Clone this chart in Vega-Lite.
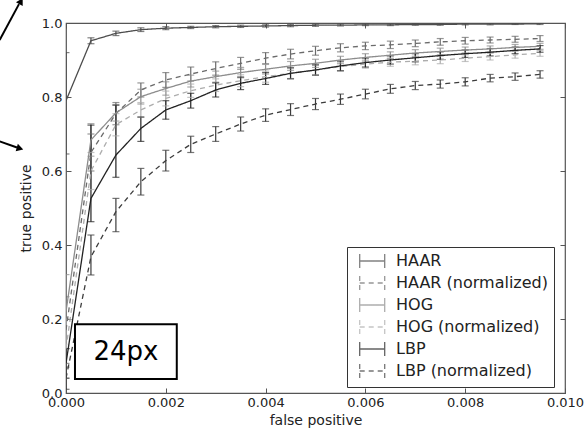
{
  "$schema": "https://vega.github.io/schema/vega-lite/v6.json",
  "width": 499,
  "height": 370,
  "autosize": {"type": "none"},
  "padding": {"left": 66, "top": 23, "right": 23, "bottom": 35},
  "background": "white",
  "datasets": {
    "curves": [
      {"s": "HAAR", "x": 0, "y": 0.79, "lo": 0.646, "hi": 0.92},
      {"s": "HAAR", "x": 0.0005, "y": 0.952, "lo": 0.944, "hi": 0.96},
      {"s": "HAAR", "x": 0.001, "y": 0.972, "lo": 0.966, "hi": 0.978},
      {"s": "HAAR", "x": 0.0015, "y": 0.982, "lo": 0.977, "hi": 0.987},
      {"s": "HAAR", "x": 0.002, "y": 0.986, "lo": 0.982, "hi": 0.99},
      {"s": "HAAR", "x": 0.0025, "y": 0.988, "lo": 0.985, "hi": 0.991},
      {"s": "HAAR", "x": 0.003, "y": 0.99, "lo": 0.987, "hi": 0.993},
      {"s": "HAAR", "x": 0.0035, "y": 0.991, "lo": 0.988, "hi": 0.994},
      {"s": "HAAR", "x": 0.004, "y": 0.992, "lo": 0.989, "hi": 0.995},
      {"s": "HAAR", "x": 0.0045, "y": 0.993, "lo": 0.99, "hi": 0.996},
      {"s": "HAAR", "x": 0.005, "y": 0.994, "lo": 0.991, "hi": 0.997},
      {"s": "HAAR", "x": 0.0055, "y": 0.994, "lo": 0.992, "hi": 0.997},
      {"s": "HAAR", "x": 0.006, "y": 0.995, "lo": 0.993, "hi": 0.997},
      {"s": "HAAR", "x": 0.0065, "y": 0.995, "lo": 0.993, "hi": 0.997},
      {"s": "HAAR", "x": 0.007, "y": 0.996, "lo": 0.994, "hi": 0.998},
      {"s": "HAAR", "x": 0.0075, "y": 0.996, "lo": 0.994, "hi": 0.998},
      {"s": "HAAR", "x": 0.008, "y": 0.997, "lo": 0.995, "hi": 0.999},
      {"s": "HAAR", "x": 0.0085, "y": 0.997, "lo": 0.995, "hi": 0.999},
      {"s": "HAAR", "x": 0.009, "y": 0.997, "lo": 0.996, "hi": 0.999},
      {"s": "HAAR", "x": 0.0095, "y": 0.998, "lo": 0.996, "hi": 0.999},

      {"s": "HAAR (normalized)", "x": 0, "y": 0.17, "lo": 0.08, "hi": 0.26},
      {"s": "HAAR (normalized)", "x": 0.0005, "y": 0.65, "lo": 0.6, "hi": 0.7},
      {"s": "HAAR (normalized)", "x": 0.001, "y": 0.755, "lo": 0.725, "hi": 0.785},
      {"s": "HAAR (normalized)", "x": 0.0015, "y": 0.819, "lo": 0.8, "hi": 0.838},
      {"s": "HAAR (normalized)", "x": 0.002, "y": 0.846, "lo": 0.826, "hi": 0.866},
      {"s": "HAAR (normalized)", "x": 0.0025, "y": 0.862, "lo": 0.843, "hi": 0.881},
      {"s": "HAAR (normalized)", "x": 0.003, "y": 0.877, "lo": 0.859, "hi": 0.895},
      {"s": "HAAR (normalized)", "x": 0.0035, "y": 0.891, "lo": 0.875, "hi": 0.907},
      {"s": "HAAR (normalized)", "x": 0.004, "y": 0.905, "lo": 0.89, "hi": 0.92},
      {"s": "HAAR (normalized)", "x": 0.0045, "y": 0.916, "lo": 0.903, "hi": 0.929},
      {"s": "HAAR (normalized)", "x": 0.005, "y": 0.925, "lo": 0.913, "hi": 0.937},
      {"s": "HAAR (normalized)", "x": 0.0055, "y": 0.933, "lo": 0.922, "hi": 0.944},
      {"s": "HAAR (normalized)", "x": 0.006, "y": 0.938, "lo": 0.928, "hi": 0.948},
      {"s": "HAAR (normalized)", "x": 0.0065, "y": 0.941, "lo": 0.931, "hi": 0.951},
      {"s": "HAAR (normalized)", "x": 0.007, "y": 0.945, "lo": 0.936, "hi": 0.954},
      {"s": "HAAR (normalized)", "x": 0.0075, "y": 0.949, "lo": 0.94, "hi": 0.958},
      {"s": "HAAR (normalized)", "x": 0.008, "y": 0.952, "lo": 0.943, "hi": 0.961},
      {"s": "HAAR (normalized)", "x": 0.0085, "y": 0.954, "lo": 0.946, "hi": 0.962},
      {"s": "HAAR (normalized)", "x": 0.009, "y": 0.956, "lo": 0.948, "hi": 0.964},
      {"s": "HAAR (normalized)", "x": 0.0095, "y": 0.958, "lo": 0.95, "hi": 0.966},

      {"s": "HOG", "x": 0, "y": 0.22, "lo": 0.12, "hi": 0.32},
      {"s": "HOG", "x": 0.0005, "y": 0.684, "lo": 0.64, "hi": 0.728},
      {"s": "HOG", "x": 0.001, "y": 0.757, "lo": 0.735, "hi": 0.779},
      {"s": "HOG", "x": 0.0015, "y": 0.801, "lo": 0.781, "hi": 0.821},
      {"s": "HOG", "x": 0.002, "y": 0.823, "lo": 0.805, "hi": 0.841},
      {"s": "HOG", "x": 0.0025, "y": 0.843, "lo": 0.827, "hi": 0.859},
      {"s": "HOG", "x": 0.003, "y": 0.855, "lo": 0.84, "hi": 0.87},
      {"s": "HOG", "x": 0.0035, "y": 0.866, "lo": 0.852, "hi": 0.88},
      {"s": "HOG", "x": 0.004, "y": 0.875, "lo": 0.862, "hi": 0.888},
      {"s": "HOG", "x": 0.0045, "y": 0.884, "lo": 0.872, "hi": 0.896},
      {"s": "HOG", "x": 0.005, "y": 0.891, "lo": 0.88, "hi": 0.902},
      {"s": "HOG", "x": 0.0055, "y": 0.9, "lo": 0.89, "hi": 0.91},
      {"s": "HOG", "x": 0.006, "y": 0.907, "lo": 0.897, "hi": 0.917},
      {"s": "HOG", "x": 0.0065, "y": 0.913, "lo": 0.904, "hi": 0.922},
      {"s": "HOG", "x": 0.007, "y": 0.919, "lo": 0.91, "hi": 0.928},
      {"s": "HOG", "x": 0.0075, "y": 0.923, "lo": 0.914, "hi": 0.932},
      {"s": "HOG", "x": 0.008, "y": 0.927, "lo": 0.919, "hi": 0.935},
      {"s": "HOG", "x": 0.0085, "y": 0.93, "lo": 0.922, "hi": 0.938},
      {"s": "HOG", "x": 0.009, "y": 0.934, "lo": 0.926, "hi": 0.942},
      {"s": "HOG", "x": 0.0095, "y": 0.937, "lo": 0.929, "hi": 0.945},

      {"s": "HOG (normalized)", "x": 0, "y": 0.12, "lo": 0.04, "hi": 0.2},
      {"s": "HOG (normalized)", "x": 0.0005, "y": 0.6, "lo": 0.55, "hi": 0.65},
      {"s": "HOG (normalized)", "x": 0.001, "y": 0.725, "lo": 0.695, "hi": 0.755},
      {"s": "HOG (normalized)", "x": 0.0015, "y": 0.765, "lo": 0.745, "hi": 0.785},
      {"s": "HOG (normalized)", "x": 0.002, "y": 0.796, "lo": 0.776, "hi": 0.816},
      {"s": "HOG (normalized)", "x": 0.0025, "y": 0.817, "lo": 0.799, "hi": 0.835},
      {"s": "HOG (normalized)", "x": 0.003, "y": 0.832, "lo": 0.815, "hi": 0.849},
      {"s": "HOG (normalized)", "x": 0.0035, "y": 0.844, "lo": 0.828, "hi": 0.86},
      {"s": "HOG (normalized)", "x": 0.004, "y": 0.855, "lo": 0.84, "hi": 0.87},
      {"s": "HOG (normalized)", "x": 0.0045, "y": 0.864, "lo": 0.85, "hi": 0.878},
      {"s": "HOG (normalized)", "x": 0.005, "y": 0.873, "lo": 0.86, "hi": 0.886},
      {"s": "HOG (normalized)", "x": 0.0055, "y": 0.882, "lo": 0.87, "hi": 0.894},
      {"s": "HOG (normalized)", "x": 0.006, "y": 0.889, "lo": 0.878, "hi": 0.9},
      {"s": "HOG (normalized)", "x": 0.0065, "y": 0.894, "lo": 0.883, "hi": 0.905},
      {"s": "HOG (normalized)", "x": 0.007, "y": 0.897, "lo": 0.887, "hi": 0.907},
      {"s": "HOG (normalized)", "x": 0.0075, "y": 0.9, "lo": 0.89, "hi": 0.91},
      {"s": "HOG (normalized)", "x": 0.008, "y": 0.905, "lo": 0.896, "hi": 0.914},
      {"s": "HOG (normalized)", "x": 0.0085, "y": 0.909, "lo": 0.9, "hi": 0.918},
      {"s": "HOG (normalized)", "x": 0.009, "y": 0.914, "lo": 0.905, "hi": 0.923},
      {"s": "HOG (normalized)", "x": 0.0095, "y": 0.918, "lo": 0.91, "hi": 0.926},

      {"s": "LBP", "x": 0, "y": 0.08, "lo": 0.04, "hi": 0.12},
      {"s": "LBP", "x": 0.0005, "y": 0.526, "lo": 0.463, "hi": 0.724},
      {"s": "LBP", "x": 0.001, "y": 0.643, "lo": 0.583, "hi": 0.778},
      {"s": "LBP", "x": 0.0015, "y": 0.715, "lo": 0.68, "hi": 0.746},
      {"s": "LBP", "x": 0.002, "y": 0.765, "lo": 0.74, "hi": 0.79},
      {"s": "LBP", "x": 0.0025, "y": 0.79, "lo": 0.77, "hi": 0.81},
      {"s": "LBP", "x": 0.003, "y": 0.819, "lo": 0.8, "hi": 0.838},
      {"s": "LBP", "x": 0.0035, "y": 0.837, "lo": 0.82, "hi": 0.854},
      {"s": "LBP", "x": 0.004, "y": 0.85, "lo": 0.834, "hi": 0.866},
      {"s": "LBP", "x": 0.0045, "y": 0.864, "lo": 0.849, "hi": 0.879},
      {"s": "LBP", "x": 0.005, "y": 0.873, "lo": 0.859, "hi": 0.887},
      {"s": "LBP", "x": 0.0055, "y": 0.884, "lo": 0.871, "hi": 0.897},
      {"s": "LBP", "x": 0.006, "y": 0.893, "lo": 0.881, "hi": 0.905},
      {"s": "LBP", "x": 0.0065, "y": 0.9, "lo": 0.889, "hi": 0.911},
      {"s": "LBP", "x": 0.007, "y": 0.906, "lo": 0.895, "hi": 0.917},
      {"s": "LBP", "x": 0.0075, "y": 0.912, "lo": 0.902, "hi": 0.922},
      {"s": "LBP", "x": 0.008, "y": 0.917, "lo": 0.907, "hi": 0.927},
      {"s": "LBP", "x": 0.0085, "y": 0.921, "lo": 0.911, "hi": 0.931},
      {"s": "LBP", "x": 0.009, "y": 0.926, "lo": 0.917, "hi": 0.935},
      {"s": "LBP", "x": 0.0095, "y": 0.93, "lo": 0.921, "hi": 0.939},

      {"s": "LBP (normalized)", "x": 0, "y": 0.04, "lo": 0.01, "hi": 0.07},
      {"s": "LBP (normalized)", "x": 0.0005, "y": 0.368, "lo": 0.319, "hi": 0.427},
      {"s": "LBP (normalized)", "x": 0.001, "y": 0.49, "lo": 0.436, "hi": 0.526},
      {"s": "LBP (normalized)", "x": 0.0015, "y": 0.571, "lo": 0.535, "hi": 0.607},
      {"s": "LBP (normalized)", "x": 0.002, "y": 0.628, "lo": 0.6, "hi": 0.656},
      {"s": "LBP (normalized)", "x": 0.0025, "y": 0.672, "lo": 0.65, "hi": 0.694},
      {"s": "LBP (normalized)", "x": 0.003, "y": 0.7, "lo": 0.68, "hi": 0.72},
      {"s": "LBP (normalized)", "x": 0.0035, "y": 0.727, "lo": 0.708, "hi": 0.746},
      {"s": "LBP (normalized)", "x": 0.004, "y": 0.751, "lo": 0.734, "hi": 0.768},
      {"s": "LBP (normalized)", "x": 0.0045, "y": 0.766, "lo": 0.75, "hi": 0.782},
      {"s": "LBP (normalized)", "x": 0.005, "y": 0.781, "lo": 0.766, "hi": 0.796},
      {"s": "LBP (normalized)", "x": 0.0055, "y": 0.794, "lo": 0.78, "hi": 0.808},
      {"s": "LBP (normalized)", "x": 0.006, "y": 0.808, "lo": 0.795, "hi": 0.821},
      {"s": "LBP (normalized)", "x": 0.0065, "y": 0.822, "lo": 0.81, "hi": 0.834},
      {"s": "LBP (normalized)", "x": 0.007, "y": 0.831, "lo": 0.82, "hi": 0.842},
      {"s": "LBP (normalized)", "x": 0.0075, "y": 0.835, "lo": 0.824, "hi": 0.846},
      {"s": "LBP (normalized)", "x": 0.008, "y": 0.841, "lo": 0.83, "hi": 0.852},
      {"s": "LBP (normalized)", "x": 0.0085, "y": 0.851, "lo": 0.841, "hi": 0.861},
      {"s": "LBP (normalized)", "x": 0.009, "y": 0.855, "lo": 0.845, "hi": 0.865},
      {"s": "LBP (normalized)", "x": 0.0095, "y": 0.861, "lo": 0.851, "hi": 0.871}
    ],
    "note": [
      {"x1": 0.00018, "x2": 0.00222, "y1": 0.038, "y2": 0.186, "xc": 0.0012, "yc": 0.112, "label": "24px"}
    ],
    "arrows": [
      {"id": 1, "x1": -0.00133, "y1": 0.954, "x2": -0.000942, "y2": 1.051, "hx": -0.000902, "hy": 1.059},
      {"id": 2, "x1": -0.00133, "y1": 0.68, "x2": -0.000982, "y2": 0.6635, "hx": -0.000922, "hy": 0.6608}
    ]
  },
  "resolve": {"axis": {"x": "independent", "y": "independent"}},
  "layer": [
    {
      "data": {"name": "curves"},
      "mark": {"type": "rule", "strokeWidth": 1.2, "clip": true},
      "encoding": {
        "x": {"field": "x", "type": "quantitative", "scale": {"domain": [0, 0.01], "nice": false, "zero": false},
              "axis": {"orient": "top", "labels": false, "title": null, "values": [0, 0.002, 0.004, 0.006, 0.008, 0.01]}},
        "y": {"field": "lo", "type": "quantitative", "scale": {"domain": [0, 1], "nice": false},
              "axis": {"orient": "right", "labels": false, "title": null, "values": [0, 0.2, 0.4, 0.6, 0.8, 1.0]}},
        "y2": {"field": "hi"},
        "color": {"field": "s", "type": "nominal"}
      }
    },
    {
      "data": {"name": "curves"},
      "mark": {"type": "tick", "orient": "horizontal", "size": 7, "thickness": 1.2, "clip": true},
      "encoding": {
        "x": {"field": "x", "type": "quantitative", "axis": null},
        "y": {"field": "lo", "type": "quantitative", "axis": null},
        "color": {"field": "s", "type": "nominal"}
      }
    },
    {
      "data": {"name": "curves"},
      "mark": {"type": "tick", "orient": "horizontal", "size": 7, "thickness": 1.2, "clip": true},
      "encoding": {
        "x": {"field": "x", "type": "quantitative", "axis": null},
        "y": {"field": "hi", "type": "quantitative", "axis": null},
        "color": {"field": "s", "type": "nominal"}
      }
    },
    {
      "data": {"name": "curves"},
      "mark": {"type": "line", "strokeWidth": 1.3, "clip": true},
      "encoding": {
        "x": {"field": "x", "type": "quantitative",
              "axis": {"orient": "bottom", "title": "false positive", "format": ".3f", "values": [0, 0.002, 0.004, 0.006, 0.008, 0.01], "labelPadding": 8, "titlePadding": 4}},
        "y": {"field": "y", "type": "quantitative",
              "axis": {"orient": "left", "title": "true positive", "format": ".1f", "values": [0, 0.2, 0.4, 0.6, 0.8, 1.0], "labelPadding": 9, "titlePadding": 8}},
        "color": {"field": "s", "type": "nominal", "title": null,
                  "scale": {"domain": ["HAAR", "HAAR (normalized)", "HOG", "HOG (normalized)", "LBP", "LBP (normalized)"],
                            "range": ["#4d4d4d", "#6b6b6b", "#8c8c8c", "#adadad", "#222222", "#3d3d3d"]}},
        "strokeDash": {"field": "s", "type": "nominal", "title": null,
                       "scale": {"domain": ["HAAR", "HAAR (normalized)", "HOG", "HOG (normalized)", "LBP", "LBP (normalized)"],
                                 "range": [[1, 0], [5, 4], [1, 0], [5, 4], [1, 0], [5, 4]]}}
      }
    },
    {
      "data": {"name": "note"},
      "mark": {"type": "rect", "fill": "white", "stroke": "black", "strokeWidth": 2},
      "encoding": {
        "x": {"field": "x1", "type": "quantitative", "axis": null},
        "x2": {"field": "x2"},
        "y": {"field": "y1", "type": "quantitative", "axis": null},
        "y2": {"field": "y2"}
      }
    },
    {
      "data": {"name": "note"},
      "mark": {"type": "text", "fontSize": 26, "font": "DejaVu Sans", "color": "black", "align": "center", "baseline": "middle"},
      "encoding": {
        "x": {"field": "xc", "type": "quantitative", "axis": null},
        "y": {"field": "yc", "type": "quantitative", "axis": null},
        "text": {"field": "label"}
      }
    },
    {
      "data": {"name": "arrows"},
      "mark": {"type": "rule", "stroke": "black", "strokeWidth": 2, "clip": false},
      "encoding": {
        "x": {"field": "x1", "type": "quantitative", "axis": null},
        "x2": {"field": "x2"},
        "y": {"field": "y1", "type": "quantitative", "axis": null},
        "y2": {"field": "y2"}
      }
    },
    {
      "data": {"name": "arrows"},
      "transform": [{"filter": "datum.id == 1"}],
      "mark": {"type": "point", "shape": "triangle-up", "filled": true, "color": "black", "size": 60, "angle": 30, "opacity": 1, "clip": false},
      "encoding": {
        "x": {"field": "hx", "type": "quantitative", "axis": null},
        "y": {"field": "hy", "type": "quantitative", "axis": null}
      }
    },
    {
      "data": {"name": "arrows"},
      "transform": [{"filter": "datum.id == 2"}],
      "mark": {"type": "point", "shape": "triangle-up", "filled": true, "color": "black", "size": 60, "angle": 106, "opacity": 1, "clip": false},
      "encoding": {
        "x": {"field": "hx", "type": "quantitative", "axis": null},
        "y": {"field": "hy", "type": "quantitative", "axis": null}
      }
    }
  ],
  "config": {
    "font": "DejaVu Sans",
    "view": {"stroke": "#555555", "strokeWidth": 1.2},
    "axis": {"grid": false, "domain": false, "ticks": true, "tickColor": "#555555", "tickSize": -5, "tickWidth": 1,
             "labelFontSize": 13, "labelColor": "#222222", "labelFont": "DejaVu Sans",
             "labelFlush": false, "labelOverlap": false, "labelBound": false,
             "titleFontSize": 14, "titleFontWeight": "normal", "titleColor": "#222222", "titleFont": "DejaVu Sans"},
    "legend": {"orient": "none", "legendX": 281, "legendY": 224, "title": null,
               "symbolType": "M-0.26,0L4.74,0M-0.26,-1.4L-0.26,1.4M4.74,-1.4L4.74,1.4", "symbolSize": 100,
               "symbolStrokeWidth": 1.3, "symbolFillColor": "transparent",
               "labelFontSize": 16, "labelFont": "DejaVu Sans", "labelColor": "#222222",
               "strokeColor": "#333333", "fillColor": "white", "padding": 6, "rowPadding": 2, "labelOffset": 27}
  }
}
